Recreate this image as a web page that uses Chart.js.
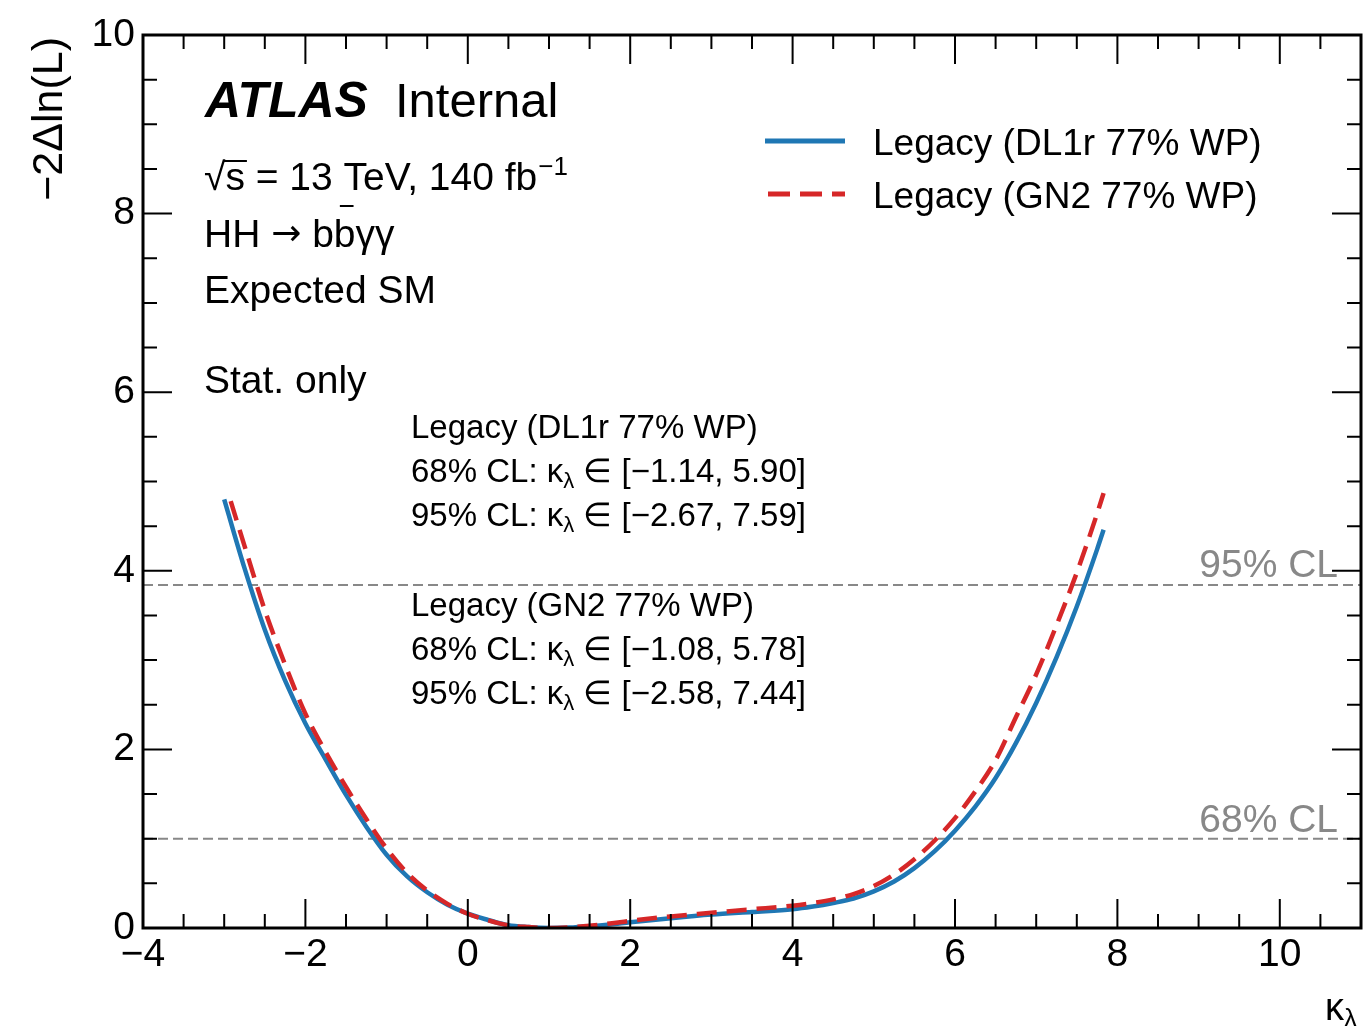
<!DOCTYPE html>
<html>
<head>
<meta charset="utf-8">
<script src="https://cdn.jsdelivr.net/npm/chart.js@4.4.1/dist/chart.umd.min.js"></script>
<style>
  html, body { margin: 0; padding: 0; background: #fff; }
  #wrap { width: 1363px; height: 1026px; }
</style>
</head>
<body>
<div id="wrap"><canvas id="nllChart" width="1363" height="1026"></canvas></div>
<script>
// --- datos ---
const kappaDL1r = [-3.0, -2.75, -2.5, -2.25, -2.0, -1.75, -1.5, -1.25, -1.0, -0.75, -0.5, -0.25, 0, 0.25, 0.5, 0.75, 1.0, 1.25, 1.5, 1.75, 2.0, 2.5, 3.0, 3.5, 4.0, 4.25, 4.5, 4.75, 5.0, 5.25, 5.5, 5.75, 6.0, 6.25, 6.5, 6.75, 7.0, 7.25, 7.5, 7.75, 7.83];
const nllDL1r   = [4.80, 4.03, 3.34, 2.77, 2.29, 1.885, 1.49, 1.135, 0.82, 0.58, 0.40, 0.26, 0.16, 0.09, 0.03, 0.01, 0.0, 0.005, 0.02, 0.04, 0.065, 0.11, 0.15, 0.18, 0.21, 0.24, 0.28, 0.33, 0.41, 0.52, 0.67, 0.86, 1.09, 1.36, 1.68, 2.07, 2.52, 3.03, 3.60, 4.24, 4.46];

const kappaGN2 = [-2.92, -2.75, -2.5, -2.25, -2.0, -1.75, -1.5, -1.25, -1.0, -0.75, -0.5, -0.25, 0, 0.25, 0.5, 0.75, 1.0, 1.25, 1.5, 1.75, 2.0, 2.5, 3.0, 3.5, 4.0, 4.25, 4.5, 4.75, 5.0, 5.25, 5.5, 5.75, 6.0, 6.25, 6.5, 6.75, 7.0, 7.25, 7.5, 7.75, 7.83];
const nllGN2   = [4.78, 4.28, 3.56, 2.95, 2.40, 1.97, 1.58, 1.22, 0.89, 0.62, 0.42, 0.27, 0.16, 0.085, 0.03, 0.01, 0.0, 0.008, 0.025, 0.05, 0.08, 0.13, 0.17, 0.21, 0.25, 0.28, 0.32, 0.38, 0.47, 0.60, 0.77, 0.98, 1.23, 1.53, 1.88, 2.36, 2.84, 3.39, 3.98, 4.64, 4.87];

const clLevels = [1.0, 3.84];
const clNames  = ['68% CL', '95% CL'];

const seriesNames = ['Legacy (DL1r 77% WP)', 'Legacy (GN2 77% WP)'];
const intervalsDL1r = [[-1.14, 5.90], [-2.67, 7.59]];
const intervalsGN2  = [[-1.08, 5.78], [-2.58, 7.44]];

const xTicks = [-4, -2, 0, 2, 4, 6, 8, 10];
const yTicks = [0, 2, 4, 6, 8, 10];

const BLUE = '#1f77b4';
const RED = '#d62728';
const GREY = '#888888';
const FONT = "'Liberation Sans', Arial, Helvetica, sans-serif";

function toPoints(xs, ys) {
    return xs.map((x, i) => ({ x: x, y: ys[i] }));
}

function fmt(v) {
    return v.toFixed(2).replace('-', '\u2212');
}

// texto con subíndice (κλ)
function drawKappaLambda(ctx, x, y, size) {
    ctx.font = size + 'px ' + FONT;
    ctx.fillText('\u03ba', x, y);
    let w = ctx.measureText('\u03ba').width;
    ctx.font = Math.round(size * 0.68) + 'px ' + FONT;
    ctx.fillText('\u03bb', x + w, y + size * 0.18);
    return w + ctx.measureText('\u03bb').width;
}

const atlasPlugin = {
    id: 'atlasStyle',
    afterDraw(chart) {
        const ctx = chart.ctx;
        const a = chart.chartArea;
        const xs = chart.scales.x;
        const ys = chart.scales.y;
        ctx.save();

        // marco
        ctx.strokeStyle = '#000';
        ctx.lineWidth = 3;
        ctx.strokeRect(a.left, a.top, a.right - a.left, a.bottom - a.top);

        // ticks hacia adentro
        ctx.lineWidth = 2;
        for (let v = -4; v <= 11.001; v += 0.5) {
            const px = xs.getPixelForValue(v);
            if (px <= a.left + 1 || px >= a.right - 1) continue;
            const len = (Math.abs(v % 2) < 1e-6) ? 29 : 14;
            ctx.beginPath();
            ctx.moveTo(px, a.bottom); ctx.lineTo(px, a.bottom - len);
            ctx.moveTo(px, a.top); ctx.lineTo(px, a.top + len);
            ctx.stroke();
        }
        for (let v = 0; v <= 10.001; v += 0.5) {
            const py = ys.getPixelForValue(v);
            if (py <= a.top + 1 || py >= a.bottom - 1) continue;
            const len = (Math.abs(v % 2) < 1e-6) ? 29 : 14;
            ctx.beginPath();
            ctx.moveTo(a.left, py); ctx.lineTo(a.left + len, py);
            ctx.moveTo(a.right, py); ctx.lineTo(a.right - len, py);
            ctx.stroke();
        }

        ctx.fillStyle = '#000';
        ctx.textBaseline = 'alphabetic';
        ctx.textAlign = 'left';

        // títulos de ejes
        ctx.save();
        ctx.translate(62, 37);
        ctx.rotate(-Math.PI / 2);
        ctx.textAlign = 'right';
        ctx.font = '43px ' + FONT;
        ctx.fillText('\u22122\u0394ln(L)', 0, 0);
        ctx.restore();
        drawKappaLambda(ctx, 1325, 1020, 38);

        // etiqueta ATLAS
        ctx.font = 'italic bold 50px ' + FONT;
        ctx.fillText('ATLAS', 205, 117);
        ctx.font = '49px ' + FONT;
        ctx.fillText('Internal', 395, 117);

        // sqrt(s)
        ctx.font = '39px ' + FONT;
        let x0 = 204;
        ctx.fillText('\u221a', x0, 190);
        x0 += ctx.measureText('\u221a').width;
        const sw = ctx.measureText('s').width;
        ctx.fillText('s', x0, 190);
        ctx.lineWidth = 2;
        ctx.beginPath();
        ctx.moveTo(x0 - 2, 161); ctx.lineTo(x0 + sw + 2, 161);
        ctx.stroke();
        x0 += sw;
        ctx.fillText(' = 13 TeV, 140 fb', x0, 190);
        x0 += ctx.measureText(' = 13 TeV, 140 fb').width;
        ctx.font = '26px ' + FONT;
        ctx.fillText('\u22121', x0 + 1, 175);

        // HH -> bbyy
        ctx.font = '39px ' + FONT;
        x0 = 204;
        ctx.fillText('HH ', x0, 247);
        x0 += ctx.measureText('HH ').width;
        ctx.font = "36px 'DejaVu Sans', sans-serif";
        ctx.fillText('\u2192', x0, 245);
        x0 += ctx.measureText('\u2192').width;
        ctx.font = '39px ' + FONT;
        ctx.fillText(' b', x0, 247);
        x0 += ctx.measureText(' b').width;
        const bw = ctx.measureText('b').width;
        ctx.fillText('b', x0, 247);
        ctx.beginPath();
        ctx.moveTo(x0 + 6, 206); ctx.lineTo(x0 + bw - 2, 206);
        ctx.stroke();
        x0 += bw;
        ctx.fillText('\u03b3\u03b3', x0, 247);

        ctx.fillText('Expected SM', 204, 303);
        ctx.fillText('Stat. only', 204, 393);

        // bloque de intervalos
        const blocks = [[seriesNames[0], intervalsDL1r, 438], [seriesNames[1], intervalsGN2, 616]];
        blocks.forEach(b => {
            ctx.font = '33px ' + FONT;
            ctx.fillText(b[0], 411, b[2]);
            b[1].forEach((iv, k) => {
                const yb = b[2] + 44 * (k + 1);
                ctx.font = '33px ' + FONT;
                const head = clNames[k] + ': ';
                ctx.fillText(head, 411, yb);
                let xx = 411 + ctx.measureText(head).width;
                xx += drawKappaLambda(ctx, xx, yb, 33);
                ctx.font = '33px ' + FONT;
                ctx.fillText(' \u2208 [' + fmt(iv[0]) + ', ' + fmt(iv[1]) + ']', xx, yb);
            });
        });

        // etiquetas CL
        ctx.fillStyle = GREY;
        ctx.textAlign = 'right';
        ctx.font = '39px ' + FONT;
        ctx.fillText(clNames[1], 1338, 577);
        ctx.fillText(clNames[0], 1338, 832);

        // leyenda
        ctx.textAlign = 'left';
        ctx.lineWidth = 5;
        ctx.strokeStyle = BLUE;
        ctx.beginPath(); ctx.moveTo(765, 141); ctx.lineTo(845, 141); ctx.stroke();
        ctx.strokeStyle = RED;
        ctx.setLineDash([22, 10]);
        ctx.beginPath(); ctx.moveTo(768, 194); ctx.lineTo(845, 194); ctx.stroke();
        ctx.setLineDash([]);
        ctx.fillStyle = '#000';
        ctx.font = '37px ' + FONT;
        ctx.fillText(seriesNames[0], 873, 155);
        ctx.fillText(seriesNames[1], 873, 208);

        ctx.restore();
    }
};

const clDatasets = clLevels.map((lvl, i) => ({
    label: clNames[i],
    data: [{ x: -4, y: lvl }, { x: 11, y: lvl }],
    borderColor: GREY,
    borderWidth: 2,
    borderDash: [10, 5],
    pointRadius: 0,
    showLine: true,
    order: 3
}));

const ctx = document.getElementById('nllChart').getContext('2d');
new Chart(ctx, {
    type: 'scatter',
    data: {
        datasets: [
            {
                label: seriesNames[1],
                data: toPoints(kappaGN2, nllGN2),
                borderColor: RED,
                borderWidth: 4.5,
                borderDash: [20, 10],
                pointRadius: 0,
                showLine: true,
                cubicInterpolationMode: 'monotone',
                order: 0
            },
            {
                label: seriesNames[0],
                data: toPoints(kappaDL1r, nllDL1r),
                borderColor: BLUE,
                borderWidth: 4.5,
                pointRadius: 0,
                showLine: true,
                cubicInterpolationMode: 'monotone',
                order: 1
            },
            ...clDatasets
        ]
    },
    options: {
        responsive: false,
        animation: false,
        layout: { padding: { top: 35, right: 2, left: 0, bottom: 0 } },
        plugins: {
            legend: { display: false },
            tooltip: { enabled: false }
        },
        scales: {
            x: {
                type: 'linear',
                min: -4,
                max: 11,
                afterBuildTicks: s => { s.ticks = xTicks.map(v => ({ value: v })); },
                afterFit: s => { s.height = 98; },
                grid: { display: false, drawTicks: false },
                border: { display: false },
                ticks: {
                    color: '#000',
                    font: { family: FONT, size: 39 },
                    padding: 4,
                    maxRotation: 0,
                    callback: v => String(v).replace('-', '\u2212')
                }
            },
            y: {
                type: 'linear',
                min: 0,
                max: 10,
                afterBuildTicks: s => { s.ticks = yTicks.map(v => ({ value: v })); },
                afterFit: s => { s.width = 143; },
                grid: { display: false, drawTicks: false },
                border: { display: false },
                ticks: {
                    color: '#000',
                    font: { family: FONT, size: 39 },
                    padding: 8
                }
            }
        }
    },
    plugins: [atlasPlugin]
});
</script>
</body>
</html>
